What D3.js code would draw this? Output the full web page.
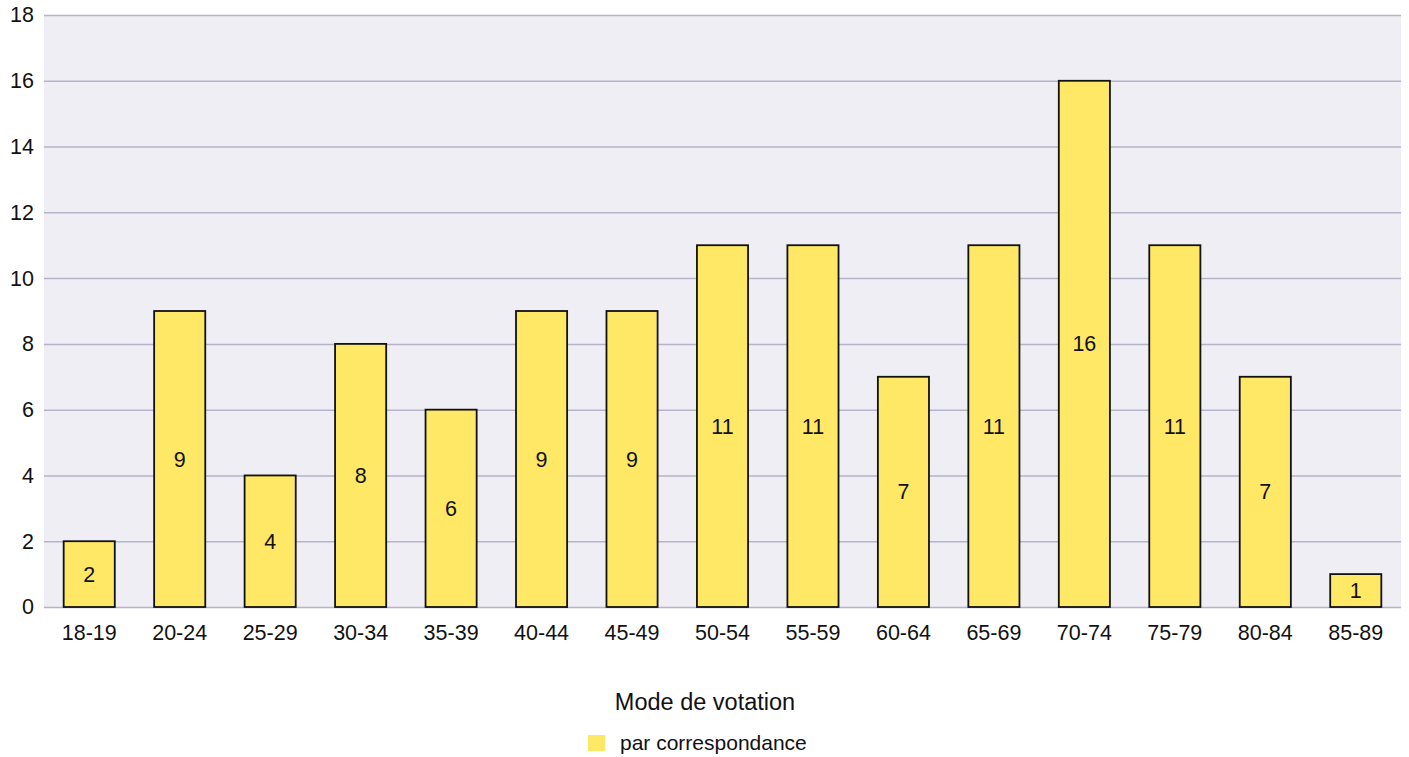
<!DOCTYPE html>
<html><head><meta charset="utf-8">
<script src="https://cdn.jsdelivr.net/npm/d3@7"></script>
<style>body{margin:0;background:#fff;}svg{display:block;}svg text{font-family:"Liberation Sans",Arial,sans-serif;}</style>
</head><body><svg id="c" width="1409" height="757"></svg>
<script>
const categories = ["18-19","20-24","25-29","30-34","35-39","40-44","45-49","50-54","55-59","60-64","65-69","70-74","75-79","80-84","85-89"];
const values = [2,9,4,8,6,9,9,11,11,7,11,16,11,7,1];
const yTicks = [0,2,4,6,8,10,12,14,16,18];
const legendTitle = "Mode de votation";
const seriesName = "par correspondance";

const svg = d3.select("#c");
const L = 44, R = 1401, T = 15, B = 607;
const FF = '"Liberation Sans", Arial, sans-serif';
const x = d3.scaleBand().domain(categories).range([L, R]).paddingInner(0.435).paddingOuter(0.2175);
const y = d3.scaleLinear().domain([0, 18]).range([B, T]);

svg.append("rect").attr("x", L).attr("y", T).attr("width", R - L).attr("height", B - T).attr("fill", "#efeef4");

const yAxis = svg.append("g").attr("transform", `translate(${L},0)`)
  .call(d3.axisLeft(y).tickValues(yTicks).tickSize(-(R - L)).tickPadding(10))
  .attr("font-family", FF).attr("font-size", 21.5);
yAxis.select(".domain").remove();
yAxis.selectAll("line").attr("stroke", "#b5b3cb").attr("stroke-width", 1.5);
yAxis.selectAll("text").attr("fill", "#111").attr("x", -10);

const xAxis = svg.append("g").attr("transform", `translate(0,${B})`)
  .call(d3.axisBottom(x).tickSize(0).tickPadding(18))
  .attr("font-family", FF).attr("font-size", 21.5);
xAxis.select(".domain").remove();
xAxis.selectAll("text").attr("fill", "#111");

svg.append("g").selectAll("rect").data(values).join("rect")
  .attr("x", (d, i) => x(categories[i]))
  .attr("y", d => y(d))
  .attr("width", x.bandwidth())
  .attr("height", d => B - y(d))
  .attr("fill", "#ffe866")
  .attr("stroke", "#111")
  .attr("stroke-width", 1.8);

svg.append("g").selectAll("text").data(values).join("text")
  .attr("x", (d, i) => x(categories[i]) + x.bandwidth() / 2)
  .attr("y", d => (y(d) + B) / 2)
  .attr("dy", "0.35em")
  .attr("text-anchor", "middle")
  .attr("font-size", 21.5).attr("fill", "#111")
  .text(d => d);

svg.append("text").attr("x", 705).attr("y", 710).attr("text-anchor", "middle")
  .attr("font-size", 23.5).attr("fill", "#111").text(legendTitle);
svg.append("rect").attr("x", 588).attr("y", 735).attr("width", 17).attr("height", 16).attr("fill", "#ffe866");
svg.append("text").attr("x", 620).attr("y", 750).attr("font-size", 21).attr("fill", "#111").text(seriesName);
</script></body></html>
